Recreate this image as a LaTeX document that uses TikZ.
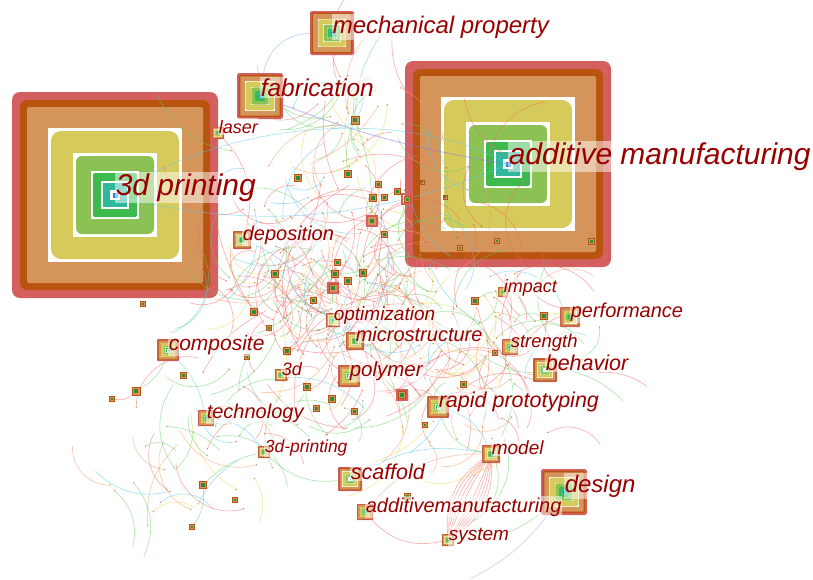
\documentclass[tikz,border=0pt]{standalone}
\usepackage{fontspec}
\setmainfont{Liberation Sans}

\definecolor{ringred}{HTML}{D45F5F}
\definecolor{ringbrown}{HTML}{B8540F}
\definecolor{ringtan}{HTML}{D4945A}
\definecolor{ringyellow}{HTML}{D6CA5A}
\definecolor{ringgreen}{HTML}{8CC153}
\definecolor{ringdkgreen}{HTML}{3DBA4E}
\definecolor{ringteal}{HTML}{30B89C}
\definecolor{ringblue}{HTML}{2A7FD4}
\definecolor{labelred}{HTML}{990000}
\definecolor{edgered}{HTML}{F26A6A}
\definecolor{edgegreen}{HTML}{66D066}
\definecolor{edgeyellow}{HTML}{EAD848}
\definecolor{edgecyan}{HTML}{5CC8F0}
\definecolor{edgepeach}{HTML}{F29C6A}
\definecolor{edgeblue}{HTML}{7FA8EE}
\definecolor{edgeviolet}{HTML}{8A78E6}
\colorlet{ec1}{edgered}\colorlet{ec2}{edgered}\colorlet{ec3}{edgered}
\colorlet{ec4}{edgered}\colorlet{ec5}{edgered}\colorlet{ec6}{edgegreen}
\colorlet{ec7}{edgegreen}\colorlet{ec8}{edgeyellow}\colorlet{ec9}{edgecyan}
\colorlet{ec10}{edgepeach}

\pgfdeclarelayer{big}
\pgfdeclarelayer{edgelayer}
\pgfdeclarelayer{labels}
\pgfsetlayers{big,edgelayer,main,labels}

\tikzset{
  edge/.style={line width=0.7pt, opacity=0.5},
  kw/.style={fill=white, fill opacity=0.5, text opacity=1, text=labelred,
             inner xsep=0.6pt, inner ysep=0.17em},
  minisq/.style={draw=ringbrown, fill=ringtan, line width=0.8pt, inner sep=0pt},
  minicore/.style={fill=ringdkgreen!75!black, inner sep=0pt},
}

% concentric year rings: name, x, y, half side, layer
\newcommand{\treering}[5]{%
  \begin{pgfonlayer}{#5}
  \pgfmathsetmacro{\rsc}{#4/103}
  \begin{scope}[shift={(#2,#3)}, scale=\rsc]
    \fill[ringred, rounded corners=\rsc*8pt] (-103,-103) rectangle (103,103);
    \fill[ringbrown, rounded corners=\rsc*7pt] (-95,-95) rectangle (95,95);
    \fill[ringtan, rounded corners=\rsc*2pt] (-88,-88) rectangle (88,88);
    \fill[white] (-67,-67) rectangle (67,67);
    \fill[ringyellow, rounded corners=\rsc*10pt] (-64,-64) rectangle (64,64);
    \fill[white] (-42,-42) rectangle (42,42);
    \fill[ringgreen, rounded corners=\rsc*6pt] (-39,-39) rectangle (39,39);
    \fill[white] (-24,-24) rectangle (24,24);
    \fill[ringdkgreen, rounded corners=\rsc*2pt] (-22,-22) rectangle (22,22);
    \fill[white] (-14,-14) rectangle (14,14);
    \fill[ringteal] (-12,-12) rectangle (12,12);
    \fill[white] (-5,-5) rectangle (5,5);
    \fill[ringblue] (-2.5,-2.5) rectangle (2.5,2.5);
  \end{scope}
  \node[inner sep=0pt, minimum size=#4*2pt] (#1) at (#2,#3) {};
  \end{pgfonlayer}}

% keyword label: node name, font size, text
\newcommand{\kwlabel}[3]{%
  \begin{pgfonlayer}{labels}
  \node[kw, anchor=base west, font=\itshape\fontsize{#2}{#2}\selectfont]
    (#1-label) at (#1.center) {#3};
  \end{pgfonlayer}}

% a batch of random curved links: count, x0, width, y0, height, min length, extra length, lowest colour, angle base
\newcommand{\linkcloud}[9]{%
  \foreach \i in {1,...,#1}{
    \pgfmathsetmacro{\xs}{#2+#3*(rnd+rnd)/2}
    \pgfmathsetmacro{\ys}{#4+#5*(rnd+rnd)/2}
    \pgfmathsetmacro{\angv}{#9+360*rnd}
    \pgfmathsetmacro{\lenv}{#6+#7*rnd}
    \pgfmathsetmacro{\bendv}{15+45*rnd}
    \pgfmathrandominteger{\ck}{#8}{10}
    \draw[edge, draw=ec\ck] (\xs,\ys) to[bend left=\bendv] ++(\angv:\lenv);
    \fill[ringbrown, opacity=.6] (\xs,\ys) circle (0.8pt);
  }}

\begin{document}
\begin{tikzpicture}[x=1pt, y=-1pt]
\useasboundingbox (0,0) rectangle (813,579);

% ---- keyword nodes ----
\treering{tdp}{115}{195}{103}{big}
\treering{add}{508}{164}{103}{big}
\treering{mech}{332}{33}{22}{main}
\treering{fab}{260}{96}{23}{main}
\treering{laser}{218}{133}{6}{main}
\treering{dep}{242}{240}{9}{main}
\treering{impact}{503}{292}{5}{main}
\treering{perf}{570}{317}{10}{main}
\treering{optim}{333}{320}{7}{main}
\treering{comp}{168}{350}{11}{main}
\treering{micro}{355}{341}{9}{main}
\treering{strength}{510}{347}{8}{main}
\treering{behav}{545}{370}{12}{main}
\treering{three}{281}{375}{6}{main}
\treering{poly}{349}{376}{11}{main}
\treering{rapid}{438}{407}{11}{main}
\treering{tech}{206}{418}{8}{main}
\treering{tdpp}{264}{452}{6}{main}
\treering{model}{491}{454}{9}{main}
\treering{scaf}{350}{479}{12}{main}
\treering{design}{564}{492}{23}{main}
\treering{addm}{365}{512}{8}{main}
\treering{system}{448}{540}{6}{main}

% ---- small unlabeled keywords ----
\foreach \x/\y/\h [count=\k] in {
  298/178/3.5, 348/174/3.5, 373/198/3.5, 372/221/4.5, 378/184/3,
  384/197/3, 384/234/3, 397/191/3, 407/199/3, 275/274/3.5,
  335/274/3.5, 337/262/3, 348/281/3.5, 363/273/3.5, 333/288/4,
  313/300/3, 254/312/3.5, 269/328/2.5, 287/351/3.5, 143/304/2.5,
  136/391/4, 183/375/3, 247/357/2.5, 307/387/3.5, 316/408/3,
  332/399/3.5, 354/411/3, 402/395/3.5, 463/384/3, 475/301/3.5,
  544/316/3.5, 495/353/2.5, 203/485/3.5, 235/500/2.5, 192/527/2.5,
  425/425/2.5, 407/496/3, 112/399/2.5, 355/120/4, 460/248/2.5,
  497/241/2.5, 591/241/3, 445/197/2, 422/182/2}{
  \node[minisq, minimum size=2*\h*1pt] (sq\k) at (\x,\y) {};
  \node[minicore, minimum size=\h*1pt] (sqc\k) at (\x,\y) {};
}
\foreach \k in {4,9,15,28}{
  \node[draw=ringred, line width=1.2pt, inner sep=0pt, minimum size=10pt] (ring\k) at (sq\k) {};
}

% ---- co-occurrence links ----
\begin{pgfonlayer}{edgelayer}
\pgfmathsetseed{2718}
\linkcloud{260}{185}{350}{135}{325}{25}{70}{1}{0}
\linkcloud{60}{390}{220}{250}{240}{25}{60}{1}{0}
\linkcloud{30}{100}{190}{380}{175}{30}{60}{5}{0}
\linkcloud{30}{280}{140}{40}{200}{35}{60}{5}{0}

\coordinate (gtop) at (380,36);
\coordinate (pend) at (470,579);
\draw[edge, draw=edgeblue] (mech) to[bend right=40] (fab);
\draw[edge, draw=edgeviolet, line width=0.9pt] (fab.center) to[bend right=6] (add.center);
\draw[edge, draw=edgecyan] (tdp.center) .. controls (240,112) and (420,112) .. (add.center);
\draw[edge, draw=edgecyan] (tdp.center) .. controls (260,235) and (390,215) .. (add.center);
\draw[edge, draw=edgeblue] (dep) .. controls (300,262) and (335,320) .. (poly);
\draw[edge, draw=edgeblue] (sq3) .. controls (395,240) and (395,290) .. (micro);
\draw[edge, draw=edgegreen] (sq39) to[bend left=15] (gtop);
\draw[edge, draw=edgegreen] (sq39) to[bend right=15] (sq2);
\draw[edge, draw=edgegreen] (sq39) to[bend left=10] (sq4);
\foreach \b in {6,12,18,24,30}{
  \draw[edge, draw=edgered] (model) to[bend left=\b] (system);
  \draw[edge, draw=edgered] (model) to[bend right=\b] (system);
}
\draw[edge, draw=edgered] (system) to[bend left=30] (addm);
\draw[edge, draw=edgegreen] (system) to[bend right=20] (design);
\draw[edge, draw=edgeviolet!70] (design) to[bend left=12] (pend);
\draw[edge, draw=edgecyan] (scaf) to[bend left=20] (model);
\draw[edge, draw=edgepeach] (addm) to[bend left=25] (model);
\draw[edge, draw=edgegreen] (model) to[bend left=30] (rapid);
\draw[edge, draw=edgecyan] (rapid) to[bend left=25] (model);
\draw[edge, draw=edgecyan] (comp) to[bend left=15] (tech);
\draw[edge, draw=edgecyan] (tech) to[bend left=25] (tdpp);
\draw[edge, draw=edgegreen] (tdpp) to[bend right=15] (sq33);
\draw[edge, draw=edgegreen] (sq33) to[bend left=20] (sq35);
\draw[edge, draw=edgegreen] (sq21) to[bend right=20] (comp);
\draw[edge, draw=edgered] (sq21) to[bend left=25] (sq38);
\draw[edge, draw=edgeyellow] (perf) to[bend right=15] (sq31);
\draw[edge, draw=edgegreen] (impact) to[bend right=20] (sq30);
\draw[edge, draw=edgered] (laser) to[bend left=30] (dep);
\draw[edge, draw=edgered] (laser) to[bend right=20] (sq17);
\draw[edge, draw=edgegreen] (scaf) to[bend left=25] (tdpp);
\end{pgfonlayer}

% ---- labels ----
\kwlabel{tdp}{30}{3d printing}
\kwlabel{add}{30}{additive manufacturing}
\kwlabel{mech}{24}{mechanical property}
\kwlabel{fab}{24.5}{fabrication}
\kwlabel{laser}{18}{laser}
\kwlabel{dep}{20}{deposition}
\kwlabel{impact}{18}{impact}
\kwlabel{perf}{20}{performance}
\kwlabel{optim}{19}{optimization}
\kwlabel{comp}{21}{composite}
\kwlabel{micro}{20}{microstructure}
\kwlabel{strength}{18.5}{strength}
\kwlabel{behav}{21.5}{behavior}
\kwlabel{three}{18}{3d}
\kwlabel{poly}{20.5}{polymer}
\kwlabel{rapid}{21.5}{rapid prototyping}
\kwlabel{tech}{20}{technology}
\kwlabel{tdpp}{17.5}{3d-printing}
\kwlabel{model}{19}{model}
\kwlabel{scaf}{21.5}{scaffold}
\kwlabel{design}{24}{design}
\kwlabel{addm}{20}{additivemanufacturing}
\kwlabel{system}{19}{system}
\end{tikzpicture}
\end{document}
